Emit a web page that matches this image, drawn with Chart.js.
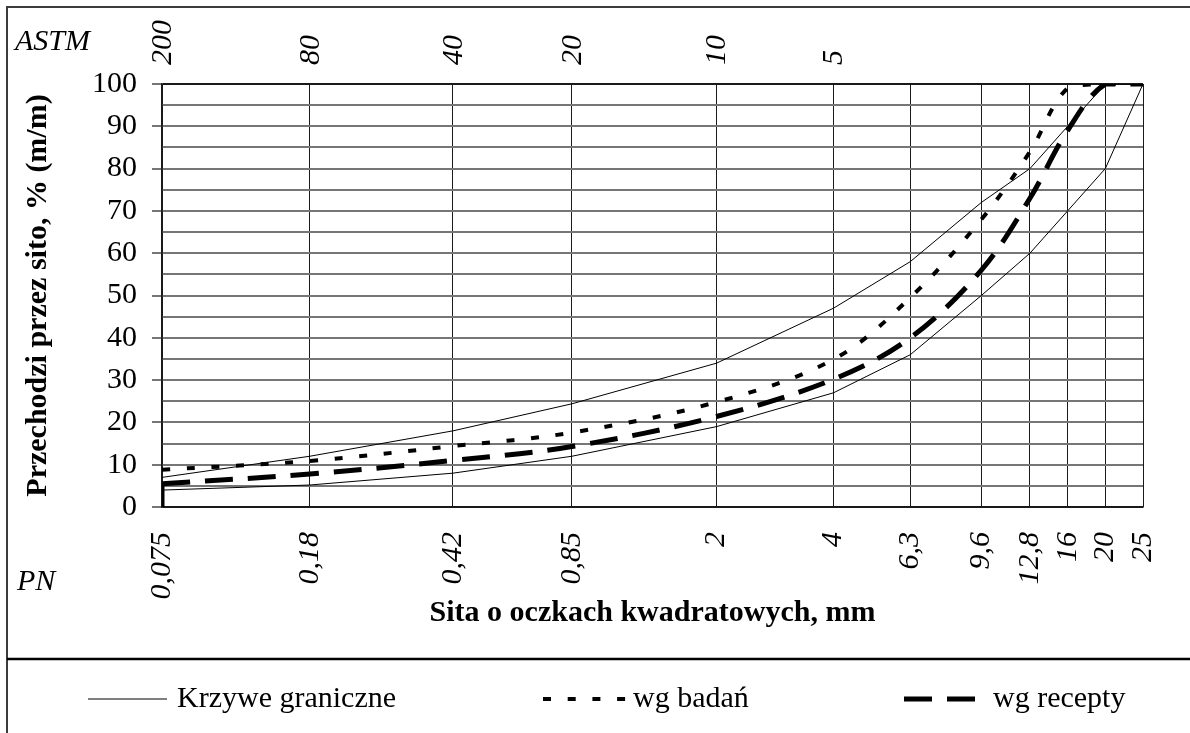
<!DOCTYPE html>
<html lang="pl">
<head>
<meta charset="utf-8">
<title>Krzywa uziarnienia</title>
<script src="https://cdn.jsdelivr.net/npm/chart.js@4/dist/chart.umd.min.js"></script>
<style>
  html, body { margin: 0; padding: 0; background: #ffffff; }
  #wrap { width: 1190px; height: 733px; position: relative; overflow: hidden; }
  canvas { display: block; }
</style>
</head>
<body>
<div id="wrap"><canvas id="grading" width="1190" height="733"></canvas></div>
<script>
// Sieve openings (mm) on the PN scale and their printed labels
const sieveSizes  = [0.075, 0.18, 0.42, 0.85, 2, 4, 6.3, 9.6, 12.8, 16, 20, 25];
const sieveLabels = ['0,075', '0,18', '0,42', '0,85', '2', '4', '6,3', '9,6', '12,8', '16', '20', '25'];

// Matching ASTM sieve numbers along the top edge
const astmSizes  = [0.075, 0.18, 0.42, 0.85, 2, 4];
const astmLabels = ['200', '80', '40', '20', '10', '5'];

// Labelled percentages on the vertical axis (grid is every 5 %)
const percentTicks = [0, 10, 20, 30, 40, 50, 60, 70, 80, 90, 100];

// Passing percentages (% m/m) for each sieve
const upperLimit    = [7, 12, 18, 24.4, 34, 47, 58, 72, 80, 90, 100, 100];
const lowerLimit    = [4, 5.2, 8, 12, 19, 27, 36, 50, 60, 70, 80, 100];
const testedGrading = [8.8, 10.9, 14.4, 17.6, 24.8, 34.9, 49.5, 68, 84, 99, 100, 100];
const recipeGrading = [5.5, 7.8, 11, 14.3, 21.4, 30.2, 40, 56, 73, 89, 100, 100];

const serif = "'Liberation Serif', 'Times New Roman', serif";

const toPoints = values => sieveSizes.map((d, i) => ({ x: d, y: values[i] }));

const boundStyle  = { borderColor: '#000000', borderWidth: 1, borderDash: [], tension: 0 };
const testedStyle = { borderColor: '#000000', borderWidth: 4, borderDash: [8, 16.7], tension: 0.35 };
const recipeStyle = { borderColor: '#000000', borderWidth: 5, borderDash: [28, 15], tension: 0.35 };

// Legend rows: text, style and where the sample line starts / ends
const legendEntries = [
  { text: 'Krzywe graniczne', style: boundStyle,  x0: 88,  x1: 167, tx: 177 },
  { text: 'wg badań',         style: testedStyle, x0: 543, x1: 626, tx: 633 },
  { text: 'wg recepty',       style: recipeStyle, x0: 904, x1: 976, tx: 993 }
];

// Frame, the divider above the legend, ASTM / PN captions and the legend itself
const framePlugin = {
  id: 'frameAndLegend',
  afterDraw(chart) {
    const c = chart.ctx;
    c.save();
    c.strokeStyle = '#3c3c3c';
    c.lineWidth = 2;
    c.beginPath();
    c.moveTo(7, 760);
    c.lineTo(7, 7);
    c.lineTo(1200, 7);
    c.stroke();

    c.strokeStyle = '#000000';
    c.lineWidth = 2.5;
    c.beginPath();
    c.moveTo(7, 659);
    c.lineTo(1200, 659);
    c.stroke();

    c.fillStyle = '#000000';
    c.font = 'italic 30px ' + serif;
    c.textAlign = 'left';
    c.textBaseline = 'alphabetic';
    c.fillText('ASTM', 15, 50);
    c.fillText('PN', 17, 590);

    const ly = 699;
    legendEntries.forEach(e => {
      c.save();
      c.strokeStyle = e.style === boundStyle ? '#555555' : e.style.borderColor;
      c.lineWidth = e.style === boundStyle ? 1.5 : e.style.borderWidth;
      c.setLineDash(e.style.borderDash);
      c.lineCap = 'butt';
      c.beginPath();
      c.moveTo(e.x0, ly);
      c.lineTo(e.x1, ly);
      c.stroke();
      c.restore();
      c.font = '30px ' + serif;
      c.textBaseline = 'middle';
      c.fillText(e.text, e.tx, ly);
    });
    c.restore();
  }
};

const darkLine = '#1a1a1a';
const grayLine = '#767676';

new Chart(document.getElementById('grading'), {
  type: 'line',
  data: {
    datasets: [
      Object.assign({ label: 'Krzywe graniczne', data: toPoints(upperLimit) }, boundStyle),
      Object.assign({ label: 'Krzywe graniczne', data: toPoints(lowerLimit) }, boundStyle),
      Object.assign({ label: 'wg badań', data: toPoints(testedGrading) }, testedStyle),
      Object.assign({ label: 'wg recepty', data: toPoints(recipeGrading) }, recipeStyle),
      // riser of the recipe curve along the finest sieve
      Object.assign({ label: 'wg recepty', data: [{ x: sieveSizes[0], y: 0 }, { x: sieveSizes[0], y: recipeGrading[0] }] },
                    recipeStyle, { tension: 0 })
    ].map(ds => Object.assign(ds, { pointRadius: 0, fill: false }))
  },
  options: {
    responsive: false,
    animation: false,
    events: [],
    layout: { padding: { left: 0, right: 47, top: 0, bottom: 0 } },
    plugins: { legend: { display: false }, tooltip: { enabled: false } },
    scales: {
      x: {
        type: 'logarithmic',
        position: 'bottom',
        min: sieveSizes[0],
        max: sieveSizes[sieveSizes.length - 1],
        afterBuildTicks: s => { s.ticks = sieveSizes.map(v => ({ value: v })); },
        afterFit: s => { s.height = 226; s.paddingLeft = 0; s.paddingRight = 0; },
        ticks: {
          autoSkip: false, minRotation: 90, maxRotation: 90, padding: 25,
          color: '#000000',
          font: { family: serif, size: 30, style: 'italic' },
          callback: (v, i) => sieveLabels[i]
        },
        grid: { color: darkLine, lineWidth: 1, drawTicks: false },
        border: { display: true, color: darkLine, width: 1.5 },
        title: {
          display: true,
          text: 'Sita o oczkach kwadratowych, mm',
          color: '#000000',
          font: { family: serif, size: 30, weight: 'bold' },
          padding: { top: 0, bottom: 102 }
        }
      },
      x2: {
        type: 'logarithmic',
        position: 'top',
        min: sieveSizes[0],
        max: sieveSizes[sieveSizes.length - 1],
        afterBuildTicks: s => { s.ticks = astmSizes.map(v => ({ value: v })); },
        afterFit: s => { s.height = 84; s.paddingLeft = 0; s.paddingRight = 0; },
        ticks: {
          autoSkip: false, minRotation: 90, maxRotation: 90, padding: 19,
          labelOffset: 37,
          color: '#000000',
          font: { family: serif, size: 30, style: 'italic' },
          callback: (v, i) => astmLabels[i]
        },
        grid: { drawOnChartArea: false, drawTicks: false },
        border: { display: false }
      },
      y: {
        type: 'linear',
        min: 0,
        max: 100,
        afterFit: s => { s.width = 162; s.paddingTop = 0; s.paddingBottom = 0; },
        ticks: {
          stepSize: 5, autoSkip: false, padding: 15,
          color: '#000000',
          font: { family: serif, size: 30 },
          callback: v => percentTicks.includes(v) ? String(v) : ''
        },
        grid: {
          color: c => (c.tick && (c.tick.value === 100 || c.tick.value === 0)) ? darkLine : grayLine,
          lineWidth: 2,
          tickLength: 10,
          tickColor: c => (c.tick && percentTicks.includes(c.tick.value)) ? grayLine : 'rgba(0,0,0,0)'
        },
        border: { display: true, color: darkLine, width: 1.5 },
        title: {
          display: true,
          text: 'Przechodzi przez sito, % (m/m)',
          color: '#000000',
          font: { family: serif, size: 30, weight: 'bold' },
          padding: { top: 20, bottom: 0 }
        }
      }
    }
  },
  plugins: [framePlugin]
});
</script>
</body>
</html>
